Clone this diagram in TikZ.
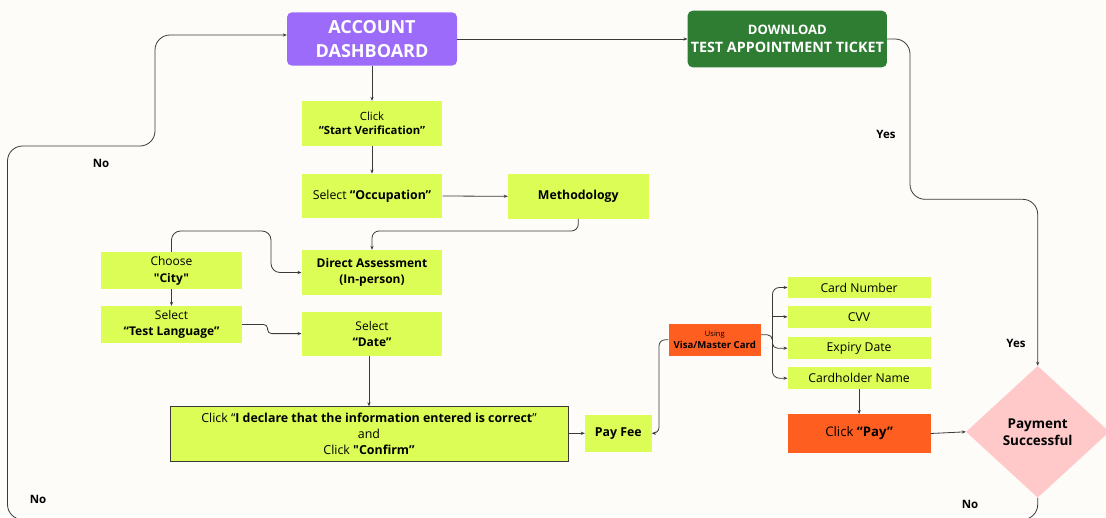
\documentclass[tikz,border=0pt]{standalone}
\usepackage{fontspec}
\setmainfont{Open Sans}[Ligatures=TeXOff]
\usetikzlibrary{arrows.meta,shapes.geometric,calc}
\definecolor{bg}{HTML}{FDFCF9}
\definecolor{limec}{HTML}{DCFD55}
\definecolor{purp}{HTML}{9C6BFA}
\definecolor{grn}{HTML}{2E7D32}
\definecolor{orng}{HTML}{FF5E21}
\definecolor{pinkc}{HTML}{FFC9C9}
\definecolor{linec}{HTML}{3A3A3A}
\tikzset{
  box/.style={inner sep=0, align=center, text=black},
  limebox/.style={box, fill=limec, minimum width=140.6, minimum height=44.7},
  cardbox/.style={box, fill=limec, minimum width=142.8, minimum height=21.6, font={\fontsize{12.2}{14}\selectfont}},
  conn/.style={draw=linec, line width=0.8, -{Stealth[length=4,width=3.2]}},
  lbl/.style={inner sep=0, font={\fontsize{11.5}{13}\selectfont\bfseries}},
}
\begin{document}
\begin{tikzpicture}[x=1pt,y=-1pt]
\fill[bg] (0,0) rectangle (1106,517);
\useasboundingbox (0,0) rectangle (1106,517);
\begin{scope}
\clip (0,0) rectangle (1106,517);
% nodes
\node[box, fill=purp, rounded corners=5, minimum width=170, minimum height=53.4, text=white,
  font={\fontsize{18}{24}\selectfont\bfseries}] (dash) at (372,39) {ACCOUNT\\DASHBOARD};
\node[box, fill=grn, rounded corners=5, minimum width=199.3, minimum height=56.6, text=white,
  font={\fontsize{13}{17.5}\selectfont\bfseries}] (dl) at (787.3,39) {DOWNLOAD\\{\fontsize{14.3}{17.5}\selectfont TEST APPOINTMENT TICKET}};
\node[limebox, font={\fontsize{11.3}{14}\selectfont}] (sv) at (372,123.4) {Click\\\textbf{“Start Verification”}};
\node[limebox, minimum height=44.5, font={\fontsize{12.3}{14}\selectfont}] (occ) at (372,196) {Select \textbf{“Occupation”}};
\node[limebox, font={\fontsize{12.3}{14}\selectfont\bfseries}] (meth) at (578.3,196.3) {Methodology};
\node[limebox, minimum height=45, font={\fontsize{12}{16}\selectfont\bfseries}] (da) at (372,272.5) {Direct Assessment\\(In-person)};
\node[limebox, minimum width=141, minimum height=37, font={\fontsize{12}{17}\selectfont}] (city) at (171.5,270.5) {Choose\\\textbf{"City"}};
\node[limebox, minimum width=141, minimum height=37, font={\fontsize{12}{16.5}\selectfont}] (lang) at (171.5,324.5) {Select\\\textbf{“Test Language”}};
\node[limebox, minimum height=43.8, font={\fontsize{12}{16}\selectfont}] (date) at (372,333.6) {Select\\\textbf{“Date”}};
\node[limebox, draw=linec, line width=0.8, minimum width=398, minimum height=55, font={\fontsize{12.4}{16}\selectfont}] (decl) at (369,434.2)
  {Click “\textbf{I declare that the information entered is correct}”\\and\\Click \textbf{"Confirm”}};
\node[limebox, minimum width=66.6, minimum height=36.7, font={\fontsize{12.3}{14}\selectfont\bfseries}] (fee) at (618.3,433.3) {Pay Fee};
\node[box, fill=orng, minimum width=92.4, minimum height=31.7, font={\fontsize{9.6}{11.5}\selectfont}] (visa) at (714.8,339.8)
  {{\fontsize{7.5}{9}\selectfont Using}\\\textbf{Visa/Master Card}};
\node[cardbox] (cn) at (859.1,287.5) {Card Number};
\node[cardbox] (cvv) at (859.1,316.8) {CVV};
\node[cardbox] (exp) at (859.1,348.2) {Expiry Date};
\node[cardbox] (ch) at (859.1,378.2) {Cardholder Name};
\node[box, fill=orng, minimum width=142.8, minimum height=38.4, font={\fontsize{13.2}{15}\selectfont}] (pay) at (859.1,433.5) {Click \textbf{“Pay”}};
\node[diamond, fill=pinkc, inner sep=0, minimum width=143.4, minimum height=131.7, align=center,
  font={\fontsize{13.5}{17}\selectfont\bfseries}] (ps) at (1037.7,431.8) {Payment\\Successful};
% connectors
\draw[conn] (dash.east) -- (dl.west);
\draw[conn] (dash.south) -- (sv.north);
\draw[conn] (sv.south) -- (occ.north);
\draw[conn] (occ.east) -- (meth.west);
\draw[conn, rounded corners=7] (meth.south) -- (578.3,231) -- (372,231) -- (da.north);
\draw[conn, rounded corners=9] (city.north) -- (171.5,231) -- (271,231) -- (271,272.5) -- (da.west);
\draw[conn] (city.south) -- (lang.north);
\draw[conn, rounded corners=4] (lang.east) -- (267.6,324.5) -- (267.6,333.6) -- (date.west);
\draw[conn] (decl.north |- date.south) -- (decl.north);
\draw[conn] (decl.east |- fee.west) -- (fee.west);
\draw[conn, rounded corners=6] (visa.west) -- (659,339.8) -- (659,433.3) -- (fee.east);
\draw[conn, rounded corners=5] ($(visa.east)+(0,-5)$) -- (772.4,334.8) -- (772.4,348.2) -- (exp.west);
\draw[conn, {Stealth[length=4,width=3.2]}-{Stealth[length=4,width=3.2]}, rounded corners=7] (cn.west) -- (772.4,287.5) -- (772.4,378.2) -- (ch.west);
\coordinate (tc) at (772.4,316.8);
\draw[conn] (tc) -- (cvv.west);
\draw[conn] (ch.south) -- (pay.north);
\draw[conn] (pay.east) -- (ps.west);
\draw[conn, rounded corners=15] (dl.east) -- (910,39) -- (910,199.3) -- (1037.7,199.3) -- (ps.north);
\draw[conn, rounded corners=15] (ps.south) -- (1037.7,519.5) -- (7.5,519.5) -- (7.5,146) -- (155,146) -- (155,35) -- ($(dash.west)+(0,-4)$);
% labels
\node[lbl] (no1) at (101,163) {No};
\node[lbl] (no2) at (38,499) {No};
\node[lbl] (yes1) at (886,134) {Yes};
\node[lbl] (yes2) at (1016,343) {Yes};
\node[lbl] (no3) at (970,504) {No};
\end{scope}
\end{tikzpicture}
\end{document}
